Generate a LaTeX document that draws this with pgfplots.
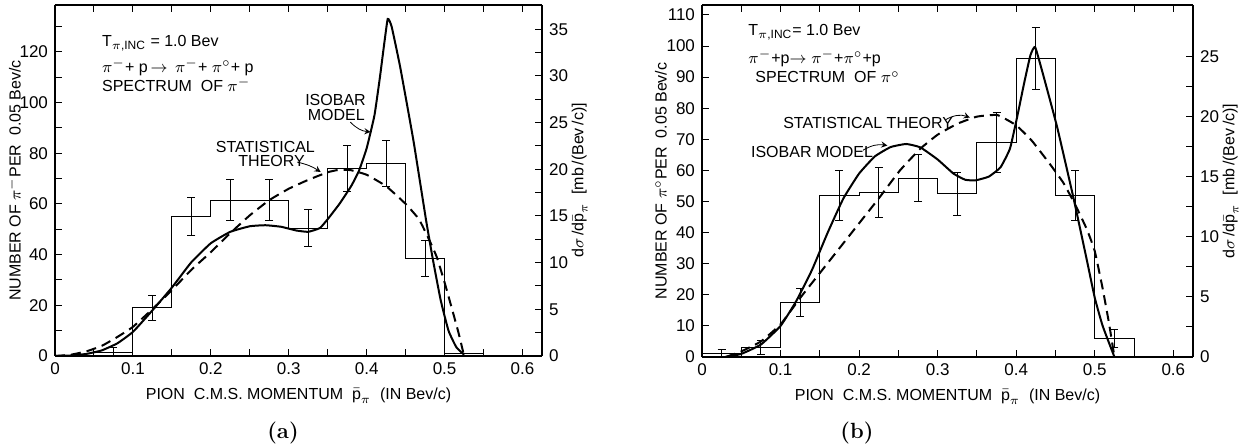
\documentclass[border=0pt]{standalone}
\usepackage{fontspec}
\setsansfont{Liberation Sans}
\usepackage{pgfplots}
\pgfplotsset{compat=1.18}

\pgfplotsset{
  panel/.style={
    scale only axis, xmin=0, xmax=0.625, ymin=0,
    tick align=inside, major tick length=3.5pt, minor tick length=3.5pt,
    every tick/.style={black, line width=0.5pt},
    axis line style={line width=0.6pt},
    /pgf/number format/assume math mode=true,
    tick label style={font=\sffamily\fontsize{8.5}{9}\selectfont},
    label style={font=\sffamily\fontsize{8}{9}\selectfont},
  },
  xpart/.style={
    xtick={0,0.1,0.2,0.3,0.4,0.5,0.6},
    xticklabels={0,0.1,0.2,0.3,0.4,0.5,0.6},
    minor xtick={0.05,0.15,0.25,0.35,0.45,0.55},
    xlabel={PION\ \ C.M.S.\ MOMENTUM\ \ $\bar{\mbox{p}}_{\pi}$\ \ (IN Bev/c)},
    xlabel shift=-0.5pt,
  },
  histo/.style={black, const plot, line width=0.5pt},
  ebars/.style={draw=none, mark=none, forget plot,
    error bars/.cd, y dir=both, y explicit,
    error bar style={draw=black, line width=0.5pt}},
  isobar/.style={black, line width=1pt, smooth, tension=0.25},
  stat/.style={black, line width=1pt, smooth, tension=0.25, dash pattern=on 5pt off 3pt},
}
\tikzset{annot/.style={font=\sffamily\fontsize{8}{9}\selectfont, inner sep=0pt}}

\begin{document}
\begin{tikzpicture}
\useasboundingbox (0,0) rectangle (624pt,224pt);

% ---------- (a) spectrum of pi-
\begin{axis}[panel, xpart, name=a,
  at={(27.5pt,46pt)}, anchor=south west, width=243.5pt, height=175.5pt,
  axis y line*=left, ymax=138.5,
  ytick={0,20,40,60,80,100,120}, minor ytick={10,30,50,70,90,110,130},
  ylabel={NUMBER OF $\pi^{-}$PER\ \ 0.05 Bev/c}, ylabel shift=-7.5pt]
\addplot[histo] coordinates {(0,0) (0.05,1.5) (0.1,19) (0.15,55) (0.2,61.5)
  (0.25,61.5) (0.3,50.5) (0.35,74) (0.4,76) (0.45,38.5) (0.5,1) (0.55,1) (0.55,0)};
\addplot[ebars] coordinates {(0.075,1.5) +- (0,2) (0.125,19) +- (0,4.8)
  (0.175,55) +- (0,7.5) (0.225,61.5) +- (0,8) (0.275,61.5) +- (0,8)
  (0.325,50.5) +- (0,7.3) (0.375,74) +- (0,9) (0.425,76) +- (0,9)
  (0.475,38.5) +- (0,7)};
\addplot[isobar] coordinates {(0,0) (0.02,0.2) (0.04,0.8) (0.06,2.2) (0.08,5)
  (0.1,9.5) (0.125,18) (0.15,27) (0.175,37) (0.2,44.5) (0.225,49) (0.25,51.2)
  (0.27,51.6) (0.29,51) (0.31,49.5) (0.325,49) (0.34,50.5) (0.35,54) (0.365,60)
  (0.38,67) (0.39,73) (0.4,82) (0.41,95) (0.417,110) (0.422,122) (0.427,133)
  (0.432,130) (0.443,114) (0.46,85) (0.476,54) (0.485,38) (0.495,22) (0.505,10)
  (0.515,3.5) (0.525,0.5)};
\addplot[stat] coordinates {(0,0) (0.02,0.5) (0.04,1.8) (0.06,4) (0.08,7.5)
  (0.1,11.5) (0.125,18.5) (0.15,26) (0.175,34) (0.2,41) (0.225,48.5) (0.25,55.5)
  (0.275,61.5) (0.3,66) (0.325,69.5) (0.35,72.5) (0.365,73.5) (0.38,73.3)
  (0.4,71.5) (0.425,67) (0.45,60) (0.467,54) (0.48,46) (0.49,39) (0.5,29)
  (0.51,18) (0.518,9) (0.525,0)};
\node[annot, anchor=west] at (axis cs:0.060,123.5) {T\textsubscript{$\pi$,INC} = 1.0 Bev};
\node[annot, anchor=west] at (axis cs:0.060,114) {$\pi^{-}$+ p$\,\rightarrow\,\pi^{-}$+ $\pi^{\circ}$+ p};
\node[annot, anchor=west] at (axis cs:0.060,107) {SPECTRUM\ \ OF $\pi^{-}$};
\node[annot] at (axis cs:0.270,82.4) {STATISTICAL};
\node[annot] at (axis cs:0.278,77) {THEORY};
\draw[-stealth, line width=0.4pt] (axis cs:0.311,76.5) to[bend left=10] (axis cs:0.341,72.6);
\node[annot] at (axis cs:0.360,101) {ISOBAR};
\node[annot] at (axis cs:0.361,95) {MODEL};
\draw[-stealth, line width=0.4pt] (axis cs:0.379,92.3) to[bend right=20] (axis cs:0.405,88.4);
\end{axis}
\begin{axis}[panel,
  at={(27.5pt,46pt)}, anchor=south west, width=243.5pt, height=175.5pt,
  axis x line=none, axis y line*=right, ymax=37.6,
  ytick={0,5,10,15,20,25,30,35}, minor y tick num=1,
  ylabel={d$\sigma$\,/d$\bar{\mbox{p}}_{\pi}$\ \ [mb\,/(Bev\,/c)]}, ylabel shift=-5pt]
\end{axis}

% ---------- (b) spectrum of pi0
\begin{axis}[panel, xpart, name=b,
  at={(351pt,45.5pt)}, anchor=south west, width=245.5pt, height=176pt,
  axis y line*=left, ymax=113.2,
  ytick={0,10,20,30,40,50,60,70,80,90,100,110},
  ylabel={NUMBER OF $\pi^{\circ}$PER\ \ 0.05 Bev/c}, ylabel shift=-7pt]
\addplot[histo] coordinates {(0,1) (0.05,3) (0.1,17.5) (0.15,52) (0.2,53)
  (0.25,57.5) (0.3,52.5) (0.35,69) (0.4,96) (0.45,52) (0.5,6) (0.55,6) (0.55,0)};
\addplot[ebars] coordinates {(0.025,1) +- (0,1.5) (0.075,3) +- (0,2.2)
  (0.125,17.5) +- (0,4.5) (0.175,52) +- (0,8) (0.225,53) +- (0,8)
  (0.275,57.5) +- (0,7.5) (0.325,52.5) +- (0,7) (0.375,69) +- (0,9.5)
  (0.425,96) +- (0,10) (0.475,52) +- (0,8) (0.525,6) +- (0,2.8)};
\addplot[isobar] coordinates {(0.03,0) (0.05,1) (0.075,4) (0.1,10) (0.12,18)
  (0.14,28) (0.16,40) (0.18,51) (0.2,59) (0.22,64.5) (0.24,67.5) (0.26,68.5)
  (0.278,67.4) (0.3,63.5) (0.32,59) (0.335,57) (0.348,56.8) (0.365,58) (0.38,61)
  (0.392,67) (0.401,77) (0.41,88) (0.418,97) (0.424,99.7) (0.434,91) (0.452,74)
  (0.473,51) (0.49,31) (0.5,19) (0.51,10) (0.525,0)};
\addplot[stat] coordinates {(0.03,0) (0.05,1.8) (0.075,5) (0.1,10.5) (0.125,19)
  (0.15,27) (0.175,35) (0.2,43) (0.225,51) (0.252,60) (0.278,67) (0.3,71.5)
  (0.325,75) (0.35,77.3) (0.376,77.8) (0.4,74.5) (0.42,69.5) (0.443,62)
  (0.46,56) (0.475,49) (0.49,41) (0.5,34) (0.51,22) (0.518,11) (0.525,0)};
\node[annot, anchor=west] at (axis cs:0.0586,104.5) {T\textsubscript{$\pi$,INC}= 1.0 Bev};
\node[annot, anchor=west] at (axis cs:0.0586,96) {$\pi^{-}$+p$\rightarrow\pi^{-}$+$\pi^{\circ}$+p};
\node[annot, anchor=west] at (axis cs:0.0675,90) {SPECTRUM\ \ OF $\pi^{\circ}$};
\node[annot, anchor=west] at (axis cs:0.103,75.2) {STATISTICAL THEORY};
\draw[-stealth, line width=0.4pt] (axis cs:0.31,76.3) to[bend left=25] (axis cs:0.341,77);
\node[annot, anchor=west] at (axis cs:0.062,65.8) {ISOBAR MODEL};
\draw[-stealth, line width=0.4pt] (axis cs:0.205,66.5) to[bend left=20] (axis cs:0.236,68);
\end{axis}
\begin{axis}[panel,
  at={(351pt,45.5pt)}, anchor=south west, width=245.5pt, height=176pt,
  axis x line=none, axis y line*=right, ymax=29.3,
  ytick={0,5,10,15,20,25}, minor y tick num=1,
  ylabel={d$\sigma$\,/d$\bar{\mbox{p}}_{\pi}$\ \ [mb\,/(Bev\,/c)]}, ylabel shift=-5pt]
\end{axis}

\node[font=\rmfamily\bfseries\fontsize{11}{12}\selectfont] at (141.5pt,7.5pt) {(a)};
\node[font=\rmfamily\bfseries\fontsize{11}{12}\selectfont] at (428.5pt,7.5pt) {(b)};
\end{tikzpicture}
\end{document}
